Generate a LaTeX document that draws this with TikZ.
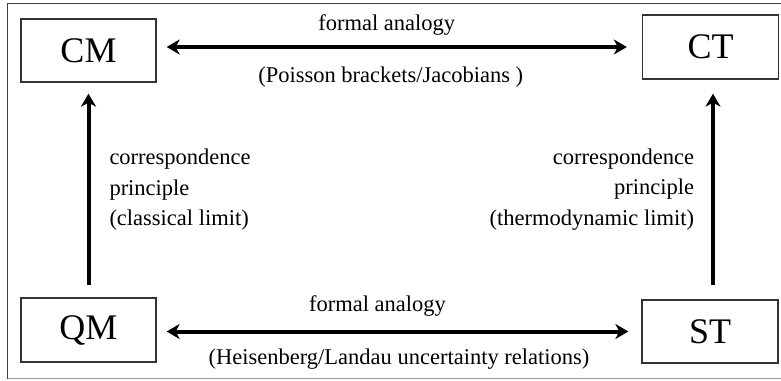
\documentclass[tikz,border=0pt]{standalone}
\usepackage{fontspec}
\setmainfont{Liberation Serif}
\usetikzlibrary{arrows.meta,positioning}

\begin{document}
\begin{tikzpicture}[x=1pt,y=1pt,
        >={Stealth[length=13pt,width=15pt,inset=4pt]},
        box/.style={draw=black!80,line width=1.3pt,inner sep=0pt,
          minimum width=135pt,minimum height=63pt,font=\fontsize{36}{40}\selectfont},
        link/.style={line width=4pt},
        lbl/.style={inner sep=0pt,font=\fontsize{22.5}{30.5}\selectfont}]
        \useasboundingbox (0,0) rectangle (781,-380);
        % outer frame (right side runs off the page)
        \draw [black!75,line width=1.2pt] (790,-3.5) -- (7.5,-3.5) -- (7.5,-378.5);
        \draw [black!40,line width=1.2pt] (7.5,-378.5) -- (790,-378.5);
        % the four theories
        \node [box] (CM) at (88.5,-50.5) {CM};
        \node [box,minimum width=136pt,minimum height=64pt] (CT) at (710.5,-47) {CT};
        \node [box,minimum height=64pt] (QM) at (88.5,-330) {QM};
        \node [box,minimum width=136pt] (ST) at (710,-331.5) {ST};
        % formal analogies
        \draw [link,<->,shorten <=10pt,shorten >=15pt] (CM.east |- CT.west) -- (CT.west)
          node [lbl,midway,above=10pt,xshift=-12.5pt] (fa1) {formal analogy}
          node [lbl,midway,below=18pt,xshift=-8.5pt] (pb) {(Poisson brackets/Jacobians )};
        \draw [link,<->,shorten <=10pt,shorten >=13pt] (QM.east |- ST.west) -- (ST.west)
          node [lbl,midway,above=13.5pt,xshift=-21.5pt] (fa2) {formal analogy}
          node [lbl,midway,below=15.5pt] (hl) {(Heisenberg/Landau uncertainty relations)};
        % correspondence principles
        \draw [link,->,shorten <=12pt,shorten >=11pt] (QM.north) -- (CM.south)
          node [lbl,midway,right=19pt,align=left] (cl) {correspondence\\principle\\(classical limit)};
        \draw [link,->,shorten <=14pt,shorten >=14pt] ([xshift=3pt]ST.north) -- ([xshift=3pt]ST.north |- CT.south)
          node [lbl,midway,left=17pt,align=right] (tl) {correspondence\\principle\\(thermodynamic limit)};
\end{tikzpicture}
\end{document}
